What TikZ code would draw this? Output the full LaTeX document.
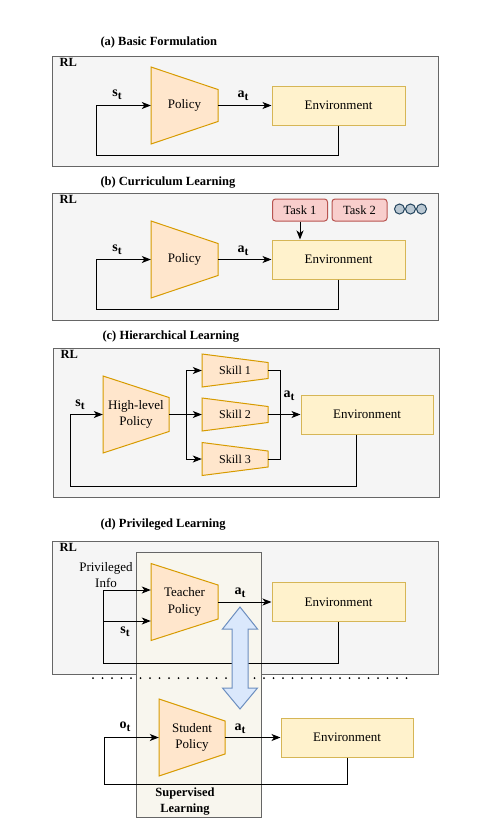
\documentclass[tikz,border=0pt]{standalone}
\usepackage{fontspec}
\setmainfont{Liberation Serif}
\usetikzlibrary{arrows.meta}
\definecolor{polfill}{HTML}{FFE6CC}
\definecolor{poldraw}{HTML}{D79B00}
\definecolor{envfill}{HTML}{FFF2CC}
\definecolor{envdraw}{HTML}{D6B656}
\definecolor{taskfill}{HTML}{F8CECC}
\definecolor{taskdraw}{HTML}{B85450}
\definecolor{dotfill}{HTML}{BAC8D3}
\definecolor{dotdraw}{HTML}{23445D}
\definecolor{rlfill}{HTML}{F5F5F5}
\definecolor{rldraw}{HTML}{666666}
\definecolor{slfill}{HTML}{F8F6EE}
\definecolor{blfill}{HTML}{DAE8FC}
\definecolor{bldraw}{HTML}{6C8EBF}
\newcommand\trap[7]{%
\draw[pol] ({#2-#4/2},{#3-#5/2}) -- ({#2-#4/2},{#3+#5/2}) -- ({#2+#4/2},{#3+#6}) -- ({#2+#4/2},{#3-#6}) -- cycle;
\node[minimum width=#4, minimum height=#5, align=center] (#1) at (#2,#3) {#7};}
\newcommand\lbl[2]{\textbf{#1}\raisebox{-.5ex}{\fontsize{11.5}{11}\selectfont\bfseries #2}}
\begin{document}
\begin{tikzpicture}[x=1pt,y=-1pt,font=\fontsize{13}{16.5}\selectfont,
rl/.style={draw=rldraw,fill=rlfill,line width=1pt},
sl/.style={draw=rldraw,fill=slfill,line width=1pt},
pol/.style={draw=poldraw,fill=polfill,line width=1pt},
env/.style={draw=envdraw,fill=envfill,line width=1pt,minimum width=133,minimum height=39},
task/.style={draw=taskdraw,fill=taskfill,line width=1pt,rounded corners=3pt,minimum width=55,minimum height=22,font=\fontsize{12.5}{14}\selectfont},
arr/.style={-{Stealth[length=9pt,width=7pt,inset=2.5pt]},line width=1pt},
ln/.style={line width=1pt},
ttl/.style={anchor=west,font=\fontsize{12.5}{15}\selectfont\bfseries},
rlt/.style={anchor=north west,inner sep=0pt,font=\fontsize{12.5}{15}\selectfont\bfseries},
lab/.style={font=\fontsize{14}{16}\selectfont}]

\fill[white] (0,0) rectangle (492,833);

\node[ttl] (ta) at (97,42) {(a) Basic Formulation};
\node[rl,minimum width=386,minimum height=110] (rla) at (245,111) {};
\node[rlt] at ([xshift=8,yshift=-3]rla.north west) {RL};
\trap{pa}{184.5}{105.5}{67}{77}{16}{Policy}
\node[env] (ena) at (338.5,105.5) {Environment};
\node[lab] (sa) at (117,95) {\lbl st};
\node[lab] (aa) at (243,96) {\lbl at};
\coordinate (fa) at (96,155);
\draw[arr] (pa.east) -- (ena.west);
\draw[arr] (ena.south) |- (fa) |- (pa.west);

\node[ttl] (tb) at (97,183) {(b) Curriculum Learning};
\node[rl,minimum width=386,minimum height=127] (rlb) at (245,256.5) {};
\node[rlt] at ([xshift=8,yshift=-3]rlb.north west) {RL};
\trap{pb}{184.5}{259.5}{67}{77}{16}{Policy}
\node[env] (enb) at (338.5,259.5) {Environment};
\node[task] (t1) at (300,210) {Task 1};
\node[task] (t2) at (359.5,210) {Task 2};
\foreach \x in {399.5,410.5,421.5}
\draw[draw=dotdraw,fill=dotfill,line width=1pt] (\x,209) circle (5pt);
\node[lab] (sb) at (117,250) {\lbl st};
\node[lab] (ab) at (243,251) {\lbl at};
\coordinate (fb) at (96,309);
\draw[arr] (t1.south) -- (t1.south |- enb.north);
\draw[arr] (pb.east) -- (enb.west);
\draw[arr] (enb.south) |- (fb) |- (pb.west);

\node[ttl] (tc) at (99,337) {(c) Hierarchical Learning};
\node[rl,minimum width=386,minimum height=149] (rlc) at (246,422.5) {};
\node[rlt] at ([xshift=8,yshift=-3]rlc.north west) {RL};
\trap{hl}{136}{414.5}{66}{77}{17}{High-level\\Policy}
\foreach \n/\y in {1/370.5,2/414.5,3/459}
\trap{s\n}{235}{\y}{66}{33}{8}{\fontsize{12}{14}\selectfont Skill \n};
\node[env,minimum width=132] (enc) at (367,414.5) {Environment};
\node[lab] (sc) at (80,405) {\lbl st};
\node[lab] (ac) at (289,396) {\lbl at};
\coordinate (br) at (186,414.5);
\coordinate (mg) at (280,414.5);
\coordinate (fc) at (70,486);
\draw[arr] (hl.east) -- (s2.west);
\draw[arr] (br) |- (s1.west);
\draw[arr] (br) |- (s3.west);
\draw[ln] (s1.east) -| (mg);
\draw[ln] (s3.east) -| (mg);
\draw[arr] (s2.east) -- (enc.west);
\draw[arr] ([xshift=-11]enc.south) |- (fc) |- (hl.west);

\node[ttl] (td) at (97,525) {(d) Privileged Learning};
\node[rl,minimum width=386,minimum height=133] (rld) at (245,607.5) {};
\node[rlt] at ([xshift=8,yshift=-3]rld.north west) {RL};
\node[sl,minimum width=125,minimum height=265] (sl) at (198.5,684.5) {};
\node[font=\fontsize{12.5}{16}\selectfont\bfseries,align=center] (slt) at (185,802) {Supervised\\Learning};
\trap{tp}{184.5}{602}{67}{77}{17}{Teacher\\Policy}
\node[env] (end) at (338.5,602) {Environment};
\node[align=center] (pi) at (106,575) {Privileged\\Info};
\node[lab] (sd) at (125,632) {\lbl st};
\node[lab] (ad) at (240,593) {\lbl at};
\coordinate (fd) at (103,663);
\coordinate (tl) at ([yshift=-19]tp.west);
\draw[arr] (tp.east) -- (end.west);
\draw[arr] (end.south) |- (fd) |- ([yshift=12]tp.west);
\draw[arr] (fd |- tl) -- (tl);

\draw[line width=2pt,line cap=round,dash pattern=on 0pt off 9.5pt] (93,678) -- (411,678);

\trap{sp}{192}{737.5}{66}{77}{16.5}{Student\\Policy}
\node[env,minimum width=132] (ene) at (347,737.5) {Environment};
\node[lab] (oe) at (125,727) {\lbl ot};
\node[lab] (ae) at (240,729) {\lbl at};
\coordinate (fe) at (104,784);
\draw[arr] (sp.east) -- (ene.west);
\draw[arr] (ene.south) |- (fe) |- (sp.west);

\draw[draw=bldraw,fill=blfill,line width=1pt] (240,607) -- (257.5,629) -- (248,629) -- (248,688) -- (257.5,688) -- (240,709) -- (222.5,688) -- (232,688) -- (232,629) -- (222.5,629) -- cycle;
\end{tikzpicture}
\end{document}
